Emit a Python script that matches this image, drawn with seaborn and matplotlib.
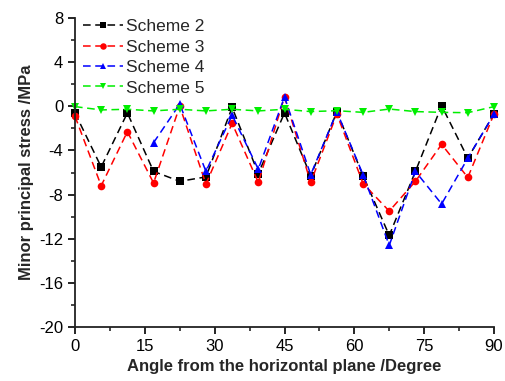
import numpy as np
import pandas as pd
import matplotlib
matplotlib.use("Agg")
import matplotlib.pyplot as plt
import seaborn as sns
from matplotlib.ticker import MultipleLocator

angles = [0, 5.625, 11.25, 16.875, 22.5, 28.125, 33.75, 39.375, 45,
          50.625, 56.25, 61.875, 67.5, 73.125, 78.75, 84.375, 90]
scheme2 = [-0.6, -5.5, -0.6, -5.9, -6.8, -6.4, -0.1, -6.1, -0.6,
           -6.3, -0.5, -6.3, -11.7, -5.9, 0.05, -4.7, -0.7]
scheme3 = [-0.9, -7.2, -2.3, -6.95, 0.0, -7.05, -1.55, -6.9, 0.85,
           -6.9, -0.7, -7.0, -9.5, -6.8, -3.45, -6.45, -0.7]
angles4 = [16.875, 22.5, 28.125, 33.75, 39.375, 45, 50.625, 56.25,
           61.875, 67.5, 73.125, 78.75, 84.375, 90]
scheme4 = [-3.3, 0.2, -5.9, -0.8, -5.7, 0.85, -6.2, -0.5,
           -6.2, -12.6, -5.9, -8.85, -4.7, -0.7]
scheme5 = [-0.03, -0.33, -0.27, -0.42, -0.27, -0.42, -0.27, -0.42, -0.27,
           -0.48, -0.4, -0.55, -0.25, -0.48, -0.55, -0.58, -0.03]
names = ["Scheme 2", "Scheme 3", "Scheme 4", "Scheme 5"]
colors = ["black", "red", "blue", "#00ee00"]
markers = ["s", "o", "^", "v"]

frames = [
    pd.DataFrame({"angle": angles, "stress": scheme2, "scheme": names[0]}),
    pd.DataFrame({"angle": angles, "stress": scheme3, "scheme": names[1]}),
    pd.DataFrame({"angle": angles4, "stress": scheme4, "scheme": names[2]}),
    pd.DataFrame({"angle": angles, "stress": scheme5, "scheme": names[3]}),
]
df = pd.concat(frames, ignore_index=True)

sns.set_style("ticks")
plt.rcParams["font.family"] = ["Liberation Sans", "DejaVu Sans"]
plt.rcParams["axes.unicode_minus"] = False

fig = plt.figure(figsize=(5.06, 3.81), dpi=100)
ax = fig.add_axes([75/506, 1 - 327/381, (494-75)/506, (327-18)/381])

sns.lineplot(data=df, x="angle", y="stress", hue="scheme", style="scheme",
             palette=dict(zip(names, colors)),
             markers=dict(zip(names, markers)),
             dashes={n: (5, 3) for n in names},
             markersize=5.5, markeredgewidth=0, linewidth=1.1,
             ax=ax, clip_on=False, legend=True)

ax.set_xlim(0, 90)
ax.set_ylim(-20, 8)
ax.xaxis.set_major_locator(MultipleLocator(15))
ax.xaxis.set_minor_locator(MultipleLocator(7.5))
ax.yaxis.set_major_locator(MultipleLocator(4))
ax.yaxis.set_minor_locator(MultipleLocator(2))
ax.tick_params(which="major", direction="out", length=5, width=1.2, labelsize=12, colors="black")
ax.tick_params(which="minor", direction="out", length=3, width=1.2)
for s in ["left", "bottom"]:
    ax.spines[s].set_linewidth(1.3)
    ax.spines[s].set_color("#222222")
sns.despine(ax=ax)

ax.set_xlabel("Angle from the horizontal plane /Degree", fontsize=12, fontweight="bold")
ax.set_ylabel("Minor principal stress /MPa", fontsize=12, fontweight="bold")

leg = ax.legend(loc="upper left", bbox_to_anchor=(-0.01, 1.035), frameon=False,
                fontsize=12.5, handlelength=2.3, labelspacing=0.3, handletextpad=0.2,
                borderaxespad=0.3, markerscale=0.85)

fig.savefig("out.png", dpi=100)
